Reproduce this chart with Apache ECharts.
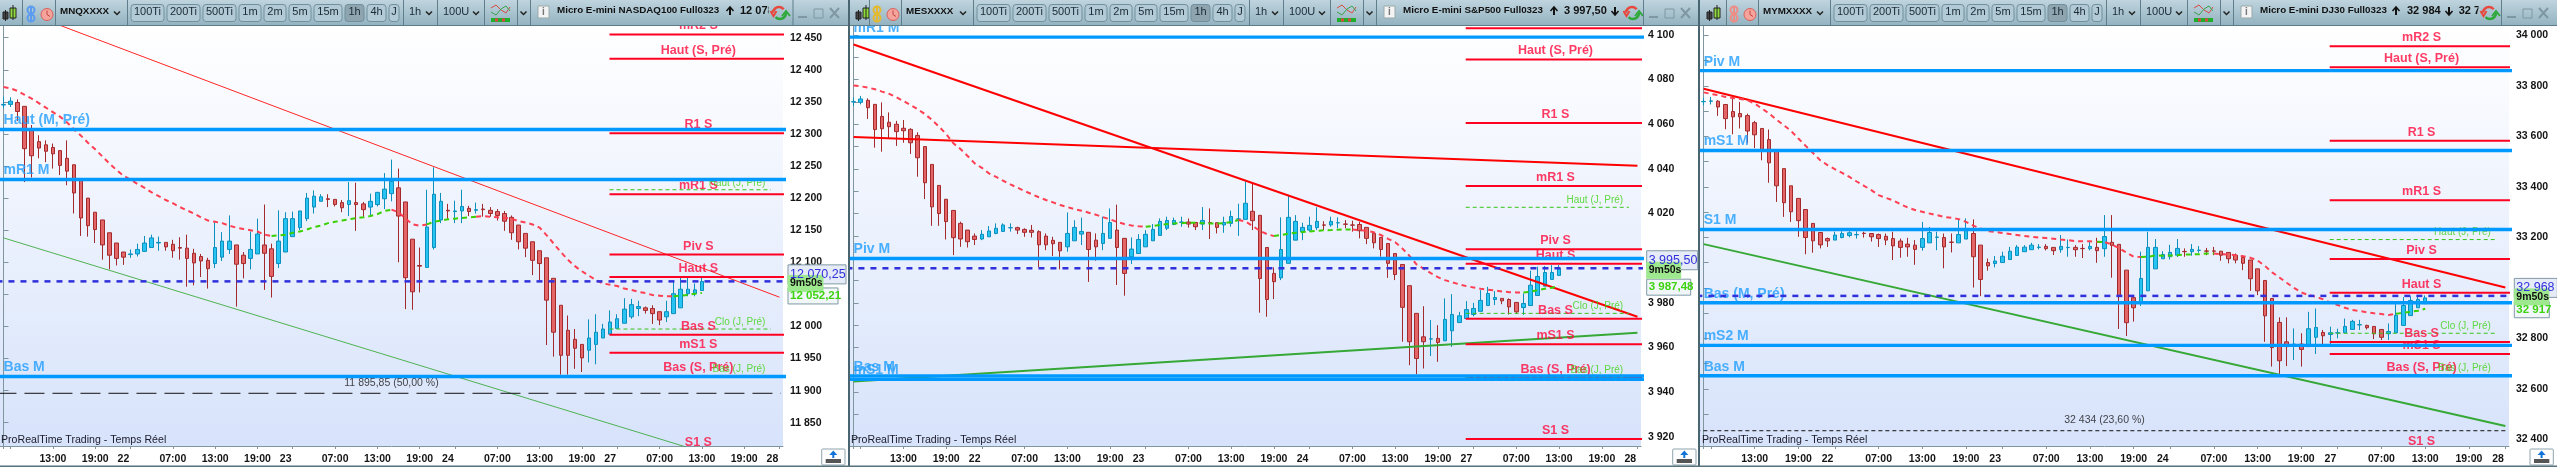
<!DOCTYPE html>
<html><head><meta charset="utf-8">
<style>html,body{margin:0;padding:0;background:#fff}#c{width:2557px;height:467px}</style>
<script src="https://cdn.jsdelivr.net/npm/echarts@6/dist/echarts.min.js"></script>
</head><body><div id="c"></div>
<script>
// [open, close, low, high] for each hourly bar
const candles1=[
[12345,12346,12340,12358],[12346,12351,12342,12357],[12349,12335,12320,12354],[12343,12277,12225,12343],[12307,12266,12232,12314],
[12288,12278,12262,12298],[12283,12273,12256,12290],[12279,12269,12246,12285],[12274,12251,12236,12274],[12262,12242,12220,12290],
[12252,12208,12176,12252],[12228,12169,12141,12228],[12200,12157,12140,12200],[12178,12151,12130,12178],[12166,12127,12104,12166],
[12146,12111,12089,12146],[12130,12106,12095,12130],[12116,12108,12096,12116],[12112,12113,12107,12120],[12113,12120,12109,12129],
[12117,12130,12116,12141],[12123,12138,12123,12143],[12130,12131,12118,12140],[12131,12124,12118,12131],[12128,12118,12107,12135],
[12123,12122,12104,12139],[12122,12106,12062,12143],[12114,12099,12064,12121],[12109,12102,12077,12113],[12103,12090,12059,12107],
[12098,12123,12091,12162],[12108,12133,12102,12147],[12120,12133,12113,12173],[12127,12097,12031,12127],[12111,12098,12075,12116],
[12106,12120,12089,12148],[12113,12144,12113,12168],[12127,12114,12057,12190],[12121,12078,12045,12129],[12098,12133,12091,12181],
[12116,12168,12116,12178],[12140,12168,12140,12179],[12154,12180,12150,12180],[12168,12200,12164,12208],[12186,12203,12176,12212],
[12195,12202,12195,12206],[12199,12198,12186,12206],[12198,12190,12187,12198],[12193,12185,12178,12197],[12190,12196,12172,12225],
[12193,12190,12149,12224],[12191,12182,12170,12194],[12186,12195,12172,12207],[12190,12209,12187,12209],[12199,12214,12183,12239],
[12207,12226,12195,12260],[12216,12172,12100,12246],[12194,12076,12027,12194],[12136,12054,12026,12136],[12095,12094,12053,12123],
[12092,12155,12092,12213],[12123,12206,12120,12248],[12166,12195,12161,12208],[12181,12180,12168,12191],[12179,12180,12161,12196],
[12180,12187,12161,12213],[12184,12179,12172,12188],[12181,12182,12176,12193],[12183,12182,12171,12191],[12181,12176,12171,12186],
[12179,12173,12165,12183],[12176,12164,12149,12180],[12170,12146,12135,12173],[12158,12132,12120,12158],[12145,12122,12108,12145],
[12132,12103,12080,12132],[12118,12098,12072,12118],[12107,12041,11971,12107],[12075,11991,11953,12075],[12033,11955,11925,12033],
[11994,11955,11925,12017],[11980,11966,11934,11996],[11972,11951,11929,11972],[11963,11982,11944,12011],[11972,11991,11941,12019],
[11982,11996,11982,12004],[11988,12007,11988,12025],[11997,12012,11997,12019],[12005,12027,12005,12044],[12015,12034,12012,12043],
[12028,12031,12016,12040],[12029,12025,12020,12031],[12028,12020,12004,12033],[12023,12010,12002,12023],[12015,12023,12007,12040],
[12020,12051,12020,12072],[12029,12058,12029,12077],[12051,12058,12047,12077],[12051,12057,12047,12067],[12056,12070,12056,12076]];
const candles2=[
[4070,4070.1,4068.2,4072],[4069.8,4071.3,4068.9,4072.7],[4070.7,4067.4,4062.4,4071.6],[4068.9,4057.6,4049.5,4068.9],[4063.5,4058,4047.7,4069.8],
[4060.9,4058.9,4053.7,4065.3],[4060,4056.7,4050.3,4061.5],[4058.2,4057.1,4051.7,4061.9],[4057.7,4051.7,4046.7,4058.2],[4055,4045,4036.5,4056.4],
[4050,4033.8,4026.5,4050],[4042,4023,4014.5,4042],[4032.6,4020,4014.5,4032.6],[4026.4,4016.4,4008.4,4026.4],[4021.4,4009.2,4001.4,4021.4],
[4015.6,4008.6,4005.1,4016.4],[4012.6,4007.4,4004.8,4012.6],[4009.9,4008.4,4005.9,4011.1],[4008.6,4010.7,4008.1,4012.6],[4009.6,4012.2,4009.6,4014.4],
[4011.1,4013.4,4010.7,4015.6],[4012,4014.9,4012,4015.6],[4013.6,4013.7,4011.9,4015.6],[4013.7,4012.6,4010.8,4014.1],[4012.9,4011.6,4009.6,4013.4],
[4012.5,4011.6,4009.3,4014.9],[4011.9,4006,3996,4012.5],[4009.9,4006,4003.6,4011.1],[4008,4006.5,4001,4009.6],[4007.1,4003.3,3995,4007.1],
[4005.1,4011.1,4002.9,4020.5],[4007.8,4013.8,4007.8,4017],[4010.8,4012,4005.9,4018.2],[4011.6,4003.9,3989.4,4011.6],[4008.1,4005.1,3998.9,4011.1],
[4006.6,4011.1,4003.6,4018.6],[4008.9,4016,4008.9,4022.3],[4012.6,4004.8,3988,4024],[4008.9,3993.2,3983.2,4008.9],[4000.6,4004.1,3997.4,4009.3],
[4002.1,4008.4,4002.1,4010.8],[4005.1,4010.7,4005.1,4012.6],[4007.8,4012.9,4007.8,4015.3],[4010.2,4016.5,4010.2,4017.8],[4013.4,4016.9,4012.6,4018.6],
[4015.1,4016.9,4014.8,4018.2],[4016.1,4016.2,4014.1,4018.6],[4016.2,4015.3,4013.7,4017.8],[4016,4014.1,4012.6,4016],[4015.3,4016.9,4012.6,4022.9],
[4015.9,4015.8,4008.6,4022.3],[4015.9,4013.8,4011.1,4015.9],[4014.9,4016,4011.4,4018.6],[4015.6,4018.7,4014.1,4021.3],[4017.5,4017.6,4010,4024.4],
[4017.4,4024.6,4017.4,4034.3],[4021,4016.8,4012.6,4033.8],[4019.2,3990.9,3975.6,4019.2],[4004.8,3981.5,3973.8,4004.8],[3993.2,3989.5,3981.7,3995.9],
[3991.2,4003.9,3990.2,4018.3],[3997.7,4018.3,3997.7,4028],[4008.1,4016.5,4008.1,4019.3],[4011.9,4013.8,4008.1,4015.9],[4012.6,4014.7,4011.9,4018.6],
[4013.7,4016.5,4012.6,4022.8],[4014.9,4014.8,4012.6,4016.6],[4014.9,4016.5,4014.1,4018.6],[4015.8,4015.9,4013.4,4018.3],[4015.3,4015.2,4013.4,4017.1],
[4014.9,4014.8,4011.9,4016.8],[4015.1,4012.3,4008.9,4016.3],[4013.8,4008.9,4006.3,4013.8],[4011.1,4006.9,4004.4,4011.1],[4009.3,4003.9,4000.7,4009.3],
[4006.6,3997.7,3991.2,4006.6],[4002.1,3992.7,3990.2,4002.1],[3997.2,3978,3962.6,3997.2],[3987.7,3962.6,3952.1,3987.7],[3975.3,3955.1,3948.1,3975.3],
[3964.8,3962.6,3950.6,3978.5],[3963.8,3963.9,3956.2,3972.3],[3964.1,3962.3,3953.6,3970],[3963,3972.6,3963,3982],[3967.5,3974.8,3960.3,3983.9],
[3971.2,3974.2,3971.2,3976],[3973,3977,3973,3980.8],[3974.8,3977.5,3974,3980],[3976.2,3981.1,3976.2,3985.7],[3978.8,3984.2,3978.8,3987.2],
[3981.5,3982.4,3979,3985.3],[3982,3980.9,3979.4,3982],[3981.5,3978.2,3974.8,3982],[3980.2,3976,3975,3980.2],[3977.9,3979.7,3974.6,3984.2],
[3978.8,3987.9,3978.8,3994.4],[3983.3,3991.8,3983.3,3996.2],[3987.5,3993.6,3987.5,3996.5],[3990.5,3993.6,3990.5,3996.9],[3992.3,3995.5,3992.3,3996.9]];
const candles3=[
[33737,33738,33723,33752],[33739,33740,33726,33756],[33739,33716,33681,33743],[33726,33670,33628,33726],[33698,33677,33608,33756],
[33690,33677,33631,33736],[33682,33621,33572,33690],[33654,33606,33553,33661],[33631,33545,33505,33631],[33587,33495,33416,33627],
[33542,33404,33340,33542],[33472,33337,33281,33472],[33404,33301,33261,33404],[33354,33266,33202,33354],[33310,33199,33133,33310],
[33255,33186,33139,33255],[33219,33170,33156,33219],[33195,33186,33162,33199],[33189,33209,33189,33222],[33199,33215,33196,33224],
[33207,33218,33200,33224],[33210,33211,33195,33224],[33216,33215,33199,33222],[33215,33202,33183,33215],[33211,33195,33162,33215],
[33204,33189,33169,33215],[33195,33166,33110,33222],[33185,33160,33119,33195],[33173,33162,33123,33198],[33169,33152,33091,33189],
[33160,33195,33147,33261],[33178,33219,33178,33241],[33200,33201,33149,33222],[33199,33162,33077,33215],[33181,33180,33140,33215],
[33178,33211,33178,33271],[33193,33228,33193,33275],[33215,33123,33001,33271],[33169,33033,32967,33169],[33100,33087,33068,33116],
[33096,33106,33081,33126],[33100,33125,33100,33143],[33112,33145,33112,33162],[33128,33161,33128,33169],[33143,33161,33143,33169],
[33151,33169,33151,33178],[33160,33161,33152,33173],[33164,33155,33148,33173],[33160,33147,33130,33160],[33151,33164,33139,33209],
[33159,33160,33123,33191],[33160,33151,33123,33169],[33156,33155,33118,33173],[33155,33164,33148,33182],[33160,33147,33099,33198],
[33155,33203,33123,33288],[33180,33168,33040,33288],[33172,32965,32837,33172],[33070,32862,32809,33070],[32961,32921,32866,32971],
[32938,33037,32928,33143],[32988,33160,32988,33222],[33075,33160,33075,33193],[33115,33132,33115,33145],[33123,33140,33112,33170],
[33129,33156,33122,33193],[33144,33143,33123,33156],[33143,33152,33127,33173],[33148,33149,33139,33165],[33146,33145,33129,33158],
[33146,33145,33129,33162],[33145,33129,33107,33145],[33140,33115,33097,33140],[33129,33110,33097,33136],[33120,33097,33070,33129],
[33110,33036,32988,33110],[33075,32988,32971,33075],[33029,32889,32786,33029],[32958,32763,32688,32958],[32863,32711,32659,32883],
[32786,32767,32690,32883],[32776,32777,32714,32839],[32777,32756,32688,32820],[32767,32838,32767,32905],[32804,32843,32738,32918],
[32823,32810,32777,32833],[32815,32822,32777,32846],[32821,32822,32800,32838],[32822,32847,32822,32878],[32835,32867,32835,32873],
[32853,32854,32833,32873],[32851,32842,32835,32854],[32847,32818,32797,32847],[32835,32804,32793,32835],[32818,32827,32793,32859],
[32822,32891,32822,32936],[32851,32930,32851,32963],[32890,32950,32890,32966],[32921,32954,32921,32970],[32937,32960,32937,32970]];

const ma1=[12373,12371,12367,12361,12355,12348,12341,12334,12327,12318,
12307,12297,12286,12276,12265,12254,12244,12235,12229,12222,
12216,12209,12203,12197,12192,12186,12181,12176,12170,12165,
12163,12161,12157,12154,12152,12150,12148,12143,12141,12142,
12143,12146,12148,12151,12155,12157,12161,12163,12165,12167,
12169,12170,12172,12175,12180,12182,12178,12168,12159,12157,
12159,12163,12165,12167,12168,12169,12170,12171,12172,12171,
12170,12169,12168,12164,12162,12159,12154,12142,12129,12116,
12104,12094,12086,12079,12072,12067,12065,12063,12059,12057,
12054,12052,12049,12048,12047,12047,12048,12049,12051,12052.21];
const ma2=[4077.3,4077,4076.4,4075.7,4074.6,4073.6,4072.1,4070.4,4068.6,4066.7,
4064.6,4061.9,4058.9,4055.6,4051.5,4048.9,4045.8,4042.5,4040.5,4038,
4036.4,4034.7,4033.1,4031.6,4030.1,4028.7,4027.3,4026.1,4025,4023.8,
4022.9,4022,4021.3,4020.4,4019.5,4018.4,4017.4,4016.2,4015.3,4014.7,
4014.3,4014.1,4014.4,4014.9,4015.3,4015.6,4015.7,4015.9,4015.9,4015.7,
4015.5,4015.5,4015.7,4016.2,4017.1,4016.5,4014.4,4012.3,4010.8,4009.9,
4010.4,4011,4011.4,4011.7,4012,4012.3,4012.5,4012.6,4012.8,4012.9,
4012.9,4012.6,4012.3,4011.6,4010.4,4008.7,4007.2,4004.4,4001.1,3997.2,
3995.3,3993.3,3991.5,3990.2,3989.2,3988.3,3987.5,3986.9,3986.3,3985.9,
3985.6,3985.1,3984.8,3984.7,3984.7,3985,3985.7,3986.3,3986.8,3987.48];
const ma3=[33774,33768,33763,33756,33752,33748,33743,33730,33710,33690,
33666,33644,33621,33591,33562,33534,33505,33486,33470,33455,
33439,33421,33404,33387,33367,33356,33346,33331,33318,33308,
33301,33294,33288,33281,33277,33272,33261,33246,33235,33224,
33222,33217,33213,33209,33205,33202,33199,33197,33194,33191,
33189,33185,33184,33184,33182,33181,33172,33157,33140,33123,
33122,33123,33128,33127,33128,33129,33132,33132,33133,33136,
33136,33133,33132,33129,33125,33119,33108,33087,33061,33041,
33020,33000,32982,32971,32965,32954,32942,32932,32921,32912,
32908,32903,32899,32896,32892,32897,32901,32905,32909,32917];
// bar ranges where the average is rising (green)
const maUp1=[[38,55],[60,67],[95,99]], maUp2=[[41,54],[59,70],[94,99]], maUp3=[[54,55],[60,70],[95,99]];

// monthly levels (blue), weekly levels (red), daily levels (green)
const monthly1=[["Haut (M, Pré)",12307],["mR1 M",12229],["Bas M",11922]];
const monthly2=[["mR1 M",4099],["Piv M",3999.9],["Bas M",3947.3],["mS1 M",3945.8]];
const monthly3=[["Piv M",33860],["mS1 M",33544],["S1 M",33231],["Bas (M, Pré)",32941],["mS2 M",32772],["Bas M",32652]];
const weekly1=[["mR2 S",12455],["Haut (S, Pré)",12417],["R1 S",12301],["mR1 S",12206],["Piv S",12112],["Haut S",12077],["Bas S",11987],["mS1 S",11959],["Bas (S, Pré)",11922],["S1 S",11806]];
const weekly2=[["mR2 S",4103],["Haut (S, Pré)",4089],["R1 S",4060.6],["mR1 S",4032.3],["Piv S",4004],["Haut S",3997.5],["Bas S",3972.9],["mS1 S",3961.5],["Bas (S, Pré)",3946.5],["S1 S",3919]];
const weekly3=[["mR2 S",33957],["Haut (S, Pré)",33873],["R1 S",33582],["mR1 S",33347],["Piv S",33114],["Haut S",32980],["Bas S",32785],["mS1 S",32738],["Bas (S, Pré)",32652],["S1 S",32358]];
const daily1=[["Haut (J, Pré)",12213],["Clo (J, Pré)",11996],["Bas (J, Pré)",11922]];
const daily2=[["Haut (J, Pré)",4022.8],["Clo (J, Pré)",3975.3],["Bas (J, Pré)",3946.5]];
const daily3=[["Haut (J, Pré)",33191],["Clo (J, Pré)",32820],["Bas (J, Pré)",32652]];
// trend lines: [value at bar 0, value at bar 110]
const redTrends1=[[12502.5,12045.6]], redTrends2=[[4095.7,3973.8],[4054.3,4041.4]], redTrends3=[[33788,33001]];
const greenTrends1=[[12138,11767.6]], greenTrends2=[[3944.8,3966.6]], greenTrends3=[[33173,32453]];
const lastPrices=[12070.25,3995.5,32968];
const lastPriceText=["12 070,25","3 995,50","32 968"];
const maLastText=["12 052,21","3 987,48","32 917"];
const fibo=[[11895.85,"11 895,85 (50,00 %)"],null,[32434,"32 434 (23,60 %)"]];
const timerText="9m50s";

const yTicks1=[12450,12400,12350,12300,12250,12200,12150,12100,12050,12000,11950,11900,11850];
const yLabels1=yTicks1;
const yTicks2=[4100,4090,4080,4070,4060,4050,4040,4030,4020,4010,4000,3990,3980,3970,3960,3950,3940,3930,3920];
const yLabels2=[4100,4080,4060,4040,4020,3980,3960,3940,3920];
const yTicks3=[34000,33900,33800,33700,33600,33500,33400,33300,33200,33100,33000,32900,32800,32700,32600,32500,32400];
const yLabels3=[34000,33800,33600,33400,33200,32800,32600,32400];
const xTickBars=[0,1,7,13,18,24,30,36,41,47,53,59,64,70,76,82,87,93,99,105,110];
const xLabelBars=[7,13,17,24,30,36,40,47,53,59,63,70,76,82,86,93,99,105,109];
const xLabelTexts=["13:00","19:00","22","07:00","13:00","19:00","23","07:00","13:00","19:00","24","07:00","13:00","19:00","27","07:00","13:00","19:00","28"];

const panels=[
 {candles:candles1,ma:ma1,maUp:maUp1,m:monthly1,s:weekly1,d:daily1,rt:redTrends1,gt:greenTrends1,yt:yTicks1,yl:yLabels1,
  left:0,width:783,min:11813.7,max:12468.2,trendW:1,trendA:.85,ticker:"MNQXXXX",linkC:"#5b9bf0",title:"Micro E-mini NASDAQ100 Full0323",off:0,
  q:{up:730,upText:"12 078",upX:740,clip:768.5,ref:770,div:792.5,min:798,res:814,cls:830,end:848},maBox:[788,50],pBox:[788,58],tBox:[788,35],dy:[-7,2,3]},
 {candles:candles2,ma:ma2,maUp:maUp2,m:monthly2,s:weekly2,d:daily2,rt:redTrends2,gt:greenTrends2,yt:yTicks2,yl:yLabels2,
  left:850,width:791,min:3915.9,max:4104,trendW:2,trendA:1,ticker:"MESXXXX",linkC:"#e4b92e",title:"Micro E-mini S&P500 Full0323",off:846,
  q:{up:1554,upText:"3 997,50",upX:1564,dn:1615,clip:1622,ref:1623,div:1643,min:1649,res:1665,cls:1681,end:1698},maBox:[1646.7,44],pBox:[1646.7,51],tBox:[1646.7,34],dy:[-8,2,1]},
 {candles:candles3,ma:ma3,maUp:maUp3,m:monthly3,s:weekly3,d:daily3,rt:redTrends3,gt:greenTrends3,yt:yTicks3,yl:yLabels3,
  left:1700,width:809,min:32373.5,max:34036.8,trendW:2,trendA:1,ticker:"MYMXXXX",linkC:"#ee8d86",title:"Micro E-mini DJ30 Full0323",off:1703,
  q:{up:2396,upText:"32 984",upX:2407,dn:2449,dnText:"32 796",dnX:2458.7,clip:2478.5,ref:2480,div:2501,min:2507,res:2523,cls:2539,end:2557},maBox:[2514.3,35],pBox:[2514.3,43],tBox:[2514.3,34.5],dy:[-8,1,1]}
];

const FONT='"Liberation Sans",Arial,sans-serif';
const sp=v=>String(v).replace(/\B(?=(\d{3})+$)/g,' ');
const SEG_START=85.9, END=111, J_END=108.8;
const grids=[],xAxes=[],yAxes=[],series=[];

panels.forEach((p,k)=>{
 grids.push({left:p.left,width:p.width,top:26,height:420,show:true,borderWidth:0,
   backgroundColor:{type:'linear',x:0,y:0,x2:0,y2:1,colorStops:[{offset:0,color:'#ffffff'},{offset:1,color:'#d7e3fb'}]}});
 xAxes.push({type:'value',gridIndex:k,min:-0.5,max:110.5,splitLine:{show:false},
   axisLine:{onZero:false,lineStyle:{color:'#7f96a1',width:1}},
   axisTick:{length:3,customValues:xTickBars,lineStyle:{color:'#7f96a1'}},
   axisLabel:{customValues:xLabelBars,margin:8,color:'#141414',fontFamily:FONT,fontWeight:700,fontSize:10.5,
     formatter:v=>xLabelTexts[xLabelBars.indexOf(v)]}});
 yAxes.push({type:'value',gridIndex:k,position:'right',min:p.min,max:p.max,splitLine:{show:false},
   axisLine:{show:true,lineStyle:{color:'#7f96a1',width:1}},
   axisTick:{show:true,length:5,customValues:p.yt,lineStyle:{color:'#7f96a1'}},
   axisLabel:{customValues:p.yl,margin:7,color:'#141414',fontFamily:FONT,fontWeight:700,fontSize:10.5,formatter:v=>sp(v)}});
 const ax={xAxisIndex:k,yAxisIndex:k,silent:true,animation:false};
 const line=(data,style,z,extra)=>series.push(Object.assign({type:'line',showSymbol:false,symbol:'none',data,lineStyle:style,z},ax,extra||{}));
 const labels=(data,color,size,weight,align,z)=>series.push(Object.assign({type:'scatter',symbolSize:0,clip:false,z,
    data:data.map(d=>({name:d[0],value:[d[1],d[2]]})),
    label:{show:true,position:'top',distance:2,align,formatter:'{b}',color,fontSize:size,fontWeight:weight,fontFamily:FONT}},ax));
 series.push(Object.assign({type:'candlestick',barWidth:4,z:1,
   data:p.candles.map((c,i)=>[i,c[0],c[1],c[2],c[3]]),
   itemStyle:{color:'#27c3f3',color0:'#e46565',borderColor:'#0b8fbd',borderColor0:'#a32a2c',borderWidth:1}},ax));
 // moving average, split by direction
 const up=i=>p.maUp.some(r=>i>=r[0]&&i<=r[1]);
 const redD=p.ma.map((v,i)=>[i,(!up(i)||(i>0&&!up(i-1))||(i<99&&!up(i+1)))?v:null]);
 const greenD=p.ma.map((v,i)=>[i,up(i)?v:null]);
 line(redD,{color:'#ff3f52',width:2,type:[5,4]},4);
 line(greenD,{color:'#38d000',width:2,type:[5,4]},5);
 // trend lines
 p.gt.forEach(t=>line([[0,t[0]],[110,t[1]]],{color:'#35a835',width:p.trendW,opacity:p.trendA},3));
 p.rt.forEach(t=>line([[0,t[0]],[110,t[1]]],{color:'#ff0000',width:p.trendW,opacity:p.trendA},3));
 // weekly
 p.s.forEach(l=>line([[SEG_START,l[1]],[END,l[1]]],{color:'#ff0022',width:2},3));
 labels(p.s.map(l=>[l[0],98.5,l[1]]),'#ff0a3c',12.5,700,'center',3);
 // daily
 p.d.forEach(l=>line([[SEG_START,l[1]],[J_END,l[1]]],{color:'#38c418',width:1,type:[4,3]},3));
 labels(p.d.map(l=>[l[0],108,l[1]]),'#3fd313',10,400,'right',4);
 // monthly
 p.m.forEach(l=>line([[-1,l[1]],[END,l[1]]],{color:'#0099ff',width:3.4},6));
 labels(p.m.map(l=>[l[0],0,l[1]]),'#1f9dff',14,700,'left',6);
 // last price
 line([[-1,lastPrices[k]],[END,lastPrices[k]]],{color:'#3030dc',width:2.5,type:[6,6]},7);
 // retracement
 if(fibo[k]){
  line([[-1,fibo[k][0]],[110.2,fibo[k][0]]],{color:'#111',width:1,type:k==0?[20,8]:[4,3]},7);
  labels([[fibo[k][1],55,fibo[k][0]]],'#141414',10.5,400,'center',7);
  series[series.length-1].label.distance=5;
 }
});

// ---- window chrome
const G=(a,b)=>new echarts.graphic.LinearGradient(0,0,0,1,[{offset:0,color:a},{offset:1,color:b}]);
const Z=100, el=[];
const rect=(x,y,w,h,fill,stroke,r,z)=>el.push({type:'rect',silent:true,z:z||Z,shape:{x,y,width:w,height:h,r:r||0},style:{fill:fill||'none',stroke:stroke||null,lineWidth:1}});
const txt=(x,y,s,size,color,weight,align,z)=>el.push({type:'text',silent:true,z:z||Z+2,x,y,style:{text:s,font:`${weight||400} ${size}px "Liberation Sans",Arial,sans-serif`,fill:color,align:align||'left',verticalAlign:'middle'}});
const pl=(pts,stroke,w,fill,z)=>el.push({type:'polyline',silent:true,z:z||Z+2,shape:{points:pts},style:{stroke,lineWidth:w,fill:fill||'none'}});
const circ=(x,y,r,fill,stroke,w)=>el.push({type:'circle',silent:true,z:Z+2,shape:{cx:x,cy:y,r},style:{fill:fill||'none',stroke,lineWidth:w||1}});
const chev=(x,y)=>pl([[x-3,y-1.5],[x,y+1.5],[x+3,y-1.5]],'#222',1.5);
const divC='#5f7e8c';
const buttons=[["100Ti",131,33],["200Ti",167,33],["500Ti",203,33],["1m",239,22],["2m",264,22],["5m",289,22],["15m",314,28],["1h",345,19],["4h",367,19],["J",389,10]];
panels.forEach((p,k)=>{
 const L=[0,849,1700][k], R=[848,1698,2557][k], o=p.off, q=p.q;
 rect(L,0,R-L,25,G('#bfd4de','#94b3c1'),null);
 rect(L,25,R-L,1,'#5d7c8a');
 const d=x=>rect(x,0,1,25,divC);
 const lx=L+(k==0?0:4);
 // candlestick icon
 rect(lx+3,12,5,7,'#444','#222'); rect(lx+10,8,6,10,'#8fdc3c','#222');
 pl([[lx+5.5,10],[lx+5.5,21]],'#222',1); pl([[lx+13,5],[lx+13,20]],'#222',1);
 d(22+o+(k?1:0));
 // link + clock icons
 circ(31+o,10,3.5,null,p.linkC,2); circ(31+o,18,3.5,null,p.linkC,2); pl([[31+o,6],[31+o,22]],p.linkC,2);
 circ(47+o,14.5,6,'#f4a49c','#d9605a',1); pl([[47+o,10.5],[47+o,14.5],[50+o,16.5]],'#c0443e',1);
 d(55+o);
 txt(60+o,11.5,p.ticker,9.8,'#111',700);
 chev(117+o,13); d(127+o);
 buttons.forEach(b=>{const act=b[0]=="1h";
  rect(b[1]+o,4.5,b[2],17,act?'#8ea4ae':'#b2cad5','#71909d',3);
  txt(b[1]+o+b[2]/2,11.5,b[0],11,'#1a2a36',400,'center');});
 d(403+o);
 txt(409+o,11.5,'1h',11,'#1a2a36',400); chev(429+o,13); d(437+o);
 txt(443+o,11.5,'100U',11,'#1a2a36',400); chev(476+o,13); d(484+o);
 // indicator icon
 pl([[491+o,8],[496+o,5],[501+o,10],[506+o,13],[510+o,7]],'#d84a40',1);
 pl([[491+o,12],[496+o,15],[501+o,9],[506+o,6],[510+o,11]],'#3aa24a',1);
 rect(491+o,18,19,4,'#1fae2c'); rect(495+o,18.5,3,3,'#e14444'); rect(502+o,18.5,3,3,'#e14444');
 d(517+o); chev(523.5+o,13); d(530+o);
 rect(538+o,6,11,12,'#f4f4f4','#9aa');
 txt(543.5+o,12,'i',10,'#777',700,'center');
 txt(557+o,10.5,p.title,9.8,'#111',700);
 // up/down arrows and session prices
 pl([[q.up,15],[q.up,8]],'#111',2); pl([[q.up-3.5,11],[q.up,7],[q.up+3.5,11]],'#111',1.5);
 txt(q.upX,10.5,q.upText,11,'#111',700);
 if(q.dn){pl([[q.dn,7],[q.dn,14]],'#111',2); pl([[q.dn-3.5,11],[q.dn,15],[q.dn+3.5,11]],'#111',1.5);}
 if(q.dnText) txt(q.dnX,10.5,q.dnText,11,'#111',700);
 // clip block + refresh + window buttons
 rect(q.clip,0,R-q.clip,25,G('#bfd4de','#94b3c1'),null,0,Z+3);
 rect(q.clip,25,R-q.clip,1,'#5d7c8a',null,0,Z+3);
 const z4=Z+4;
 el.push({type:'arc',silent:true,z:z4,shape:{cx:q.ref+9,cy:13,r:6,startAngle:3.2,endAngle:5.6},style:{stroke:'#e8473c',lineWidth:2.5,fill:'none'}});
 el.push({type:'arc',silent:true,z:z4,shape:{cx:q.ref+10,cy:13,r:6,startAngle:0,endAngle:2.4},style:{stroke:'#2fa83a',lineWidth:2.5,fill:'none'}});
 pl([[q.ref+.5,11],[q.ref+3.5,16],[q.ref+6.5,11]],'#e8473c',2,null,z4);
 pl([[q.ref+12,16],[q.ref+16,11],[q.ref+20,16]],'#2fa83a',2,null,z4);
 rect(q.div,0,1,25,divC,null,0,z4);
 pl([[q.min,17],[q.min+9,17]],'#7f97a3',2,null,z4);
 rect(q.res,9,9,9,'none','#7f97a3',0,z4);
 pl([[q.cls,8],[q.cls+9,18]],'#7f97a3',2,null,z4); pl([[q.cls+9,8],[q.cls,18]],'#7f97a3',2,null,z4);
 // footer text
 txt(L+(k==0?1:2),440.5,'ProRealTime Trading - Temps Réel',10.6,'#1a1a2a',400,'left',20);
 // corner button
 const bx=[821.7,1672.7,2530][k];
 rect(bx,449,23.3,16,'#fdfdfd','#8fa4ad',1);
 pl([[bx+11.6,458],[bx+11.6,453]],'#1173d8',2); el.push({type:'polygon',silent:true,z:Z+2,shape:{points:[[bx+7.6,455],[bx+11.6,450.5],[bx+15.6,455]]},style:{fill:'#1173d8'}});
 rect(bx+4,459,15.3,4,'#555');
});
rect(848,0,2,467,'#4a6572',null,0,Z+6);
rect(1698,0,2,467,'#4a6572',null,0,Z+6);
rect(0,465.5,2557,1.5,'#56707c',null,0,Z+6);

const chart=echarts.init(document.getElementById('c'),null,{renderer:'canvas'});
chart.setOption({animation:false,backgroundColor:'#ffffff',textStyle:{fontFamily:FONT},grid:grids,xAxis:xAxes,yAxis:yAxes,series,graphic:{elements:el}});

// price boxes anchored on the axis values
const boxes=[];
panels.forEach((p,k)=>{
 const ya=v=>chart.convertToPixel({yAxisIndex:k},v);
 const yP=ya(lastPrices[k]), yM=ya(p.ma[99]);
 const box=(x,cy,w,h,fill,stroke,t,color,weight,size)=>{
  boxes.push({type:'rect',silent:true,z:110,shape:{x,y:cy-h/2,width:w,height:h},style:{fill,stroke,lineWidth:1}});
  boxes.push({type:'text',silent:true,z:111,x:x+2,y:cy,style:{text:t,font:`${weight} ${size||11.5}px "Liberation Sans",sans-serif`,fill:color,verticalAlign:'middle'}});
 };
 box(p.pBox[0],yP+p.dy[0],p.pBox[1],19,'#e6ebf8','#8199a5',lastPriceText[k],'#3030dc',400,12.5);
 box(p.maBox[0],yM+p.dy[2],p.maBox[1],16,'#f1f6fb','#8199a5',maLastText[k],'#3ed310',700);
 box(p.tBox[0],yP+p.dy[1],p.tBox[1],16,'#9ee88f','#9ee88f',timerText,'#111',700,10.5);
});
chart.setOption({graphic:{elements:el.concat(boxes)}});
</script></body></html>
